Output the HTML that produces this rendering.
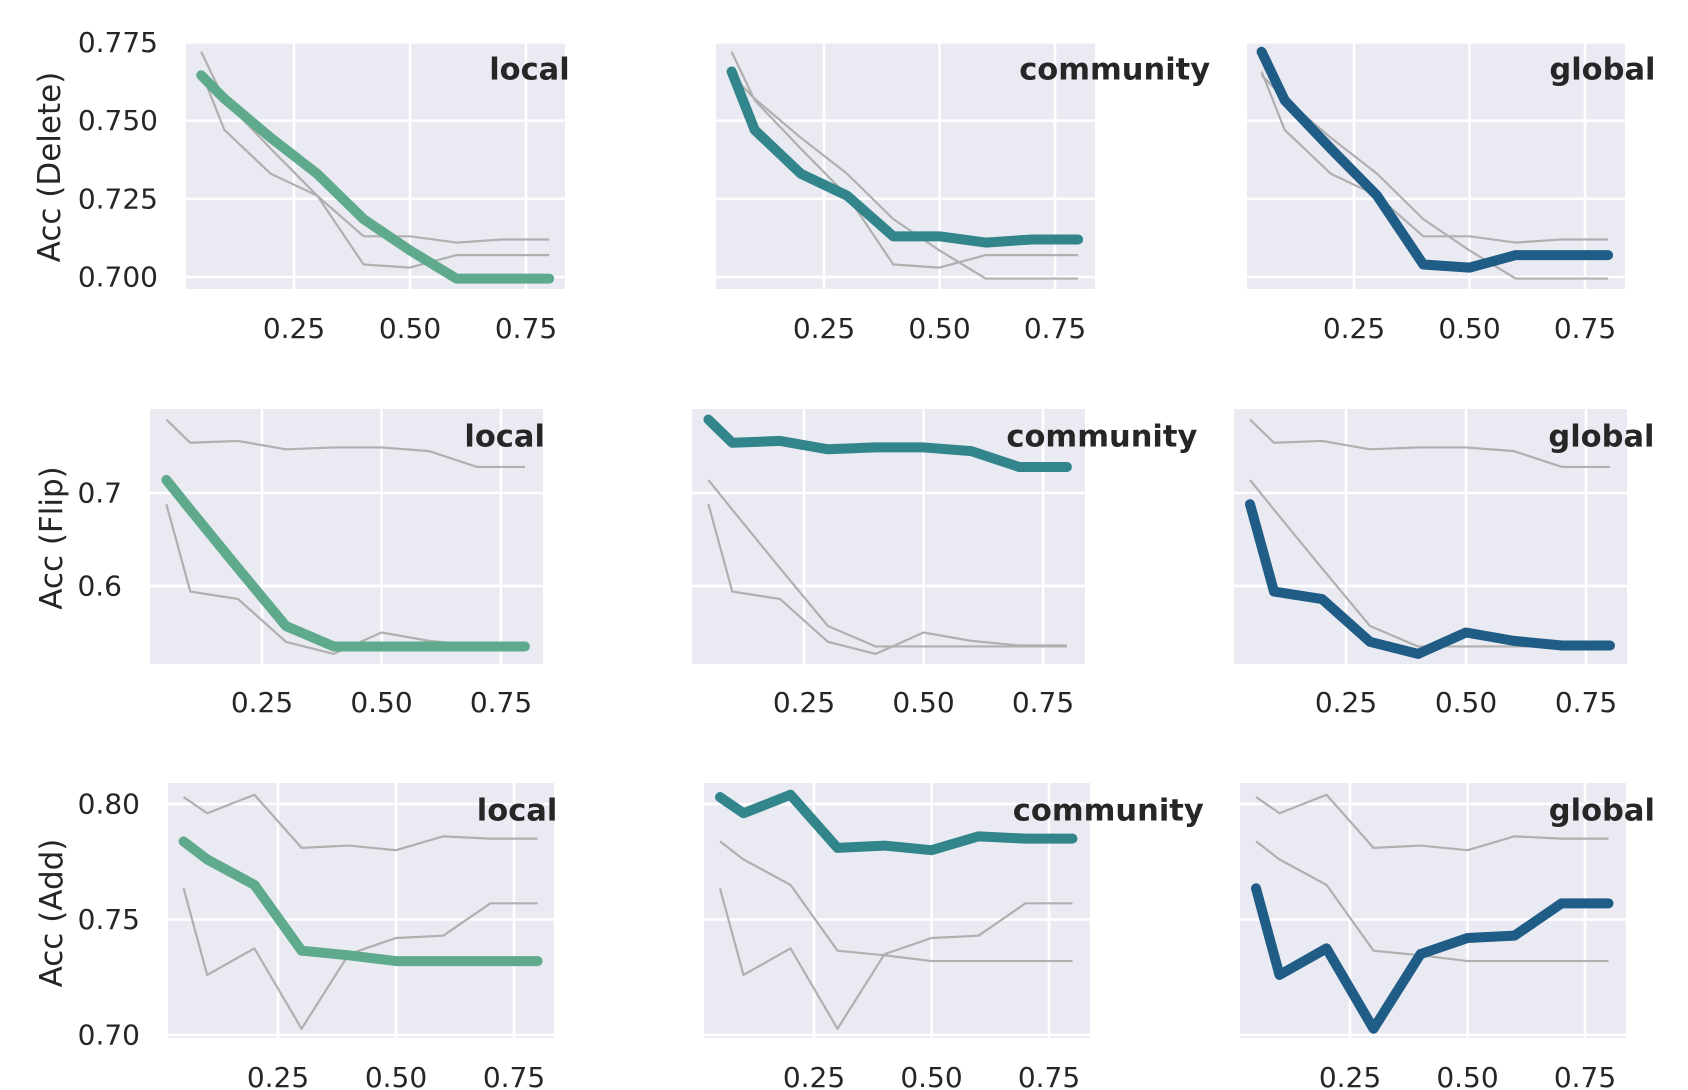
<!DOCTYPE html>
<html><head><meta charset="utf-8">
<style>
html,body{margin:0;padding:0;background:#fff;}
svg{display:block;}
</style></head>
<body>
<svg id="chart" width="1688" height="1090" viewBox="0 0 1688 1090" xmlns="http://www.w3.org/2000/svg"></svg>
<script>
const xs = [0.05,0.1,0.2,0.3,0.4,0.5,0.6,0.7,0.8];
const xTicks = [0.25,0.5,0.75];
const xTickLabels = ["0.25","0.50","0.75"];
const methods = ["local","community","global"];
const rowLabels = ["Acc (Delete)","Acc (Flip)","Acc (Add)"];
const deleteLocal = [0.7645,0.757,0.7445,0.733,0.7185,0.7085,0.6995,0.6995,0.6995];
const deleteCommunity = [0.7657,0.747,0.733,0.726,0.713,0.713,0.711,0.712,0.712];
const deleteGlobal = [0.772,0.7565,0.741,0.726,0.704,0.703,0.707,0.707,0.707];
const flipLocal = [0.714,0.682,0.619,0.557,0.535,0.535,0.535,0.535,0.535];
const flipCommunity = [0.779,0.754,0.756,0.747,0.749,0.749,0.745,0.728,0.728];
const flipGlobal = [0.688,0.594,0.586,0.540,0.527,0.550,0.541,0.536,0.536];
const addLocal = [0.7838,0.776,0.765,0.7365,0.7345,0.732,0.732,0.732,0.732];
const addCommunity = [0.803,0.796,0.804,0.781,0.782,0.780,0.786,0.785,0.785];
const addGlobal = [0.7635,0.726,0.7375,0.7027,0.735,0.742,0.743,0.757,0.757];
const deleteYTicks = [0.700,0.725,0.750,0.775];
const deleteYTickLabels = ["0.700","0.725","0.750","0.775"];
const flipYTicks = [0.6,0.7];
const flipYTickLabels = ["0.6","0.7"];
const addYTicks = [0.70,0.75,0.80];
const addYTickLabels = ["0.70","0.75","0.80"];

const rowSeries = [[deleteLocal,deleteCommunity,deleteGlobal],[flipLocal,flipCommunity,flipGlobal],[addLocal,addCommunity,addGlobal]];
const rowYTicks = [deleteYTicks,flipYTicks,addYTicks];
const rowYTickLabels = [deleteYTickLabels,flipYTickLabels,addYTickLabels];
const colors = ["#5fa98d","#31858b","#1f5c86"];
// layout (pixels)
const rowGeo = [
  {top:42,bottom:289,y0:0.7,py0:277,k:3128,lblY:167,lblX:50,tickY:338},
  {top:409,bottom:664,y0:0.7,py0:493,k:930,lblY:538,lblX:52,tickY:712},
  {top:783,bottom:1038,y0:0.7,py0:1035,k:2310,lblY:913,lblX:52,tickY:1087}
];
const panelGeo = [
  [{l:186,r:565,t25:294,t75:526},{l:716,r:1095,t25:824,t75:1055},{l:1247,r:1625,t25:1354,t75:1585}],
  [{l:150,r:543,t25:262,t75:501},{l:692,r:1085,t25:804,t75:1043},{l:1234,r:1627,t25:1346,t75:1586}],
  [{l:168,r:554,t25:278,t75:514},{l:704,r:1090,t25:814,t75:1049},{l:1240,r:1626,t25:1350,t75:1585}]
];
const NS="http://www.w3.org/2000/svg";
const svg=document.getElementById('chart');
function mk(tag,attrs,parent){const e=document.createElementNS(NS,tag);for(const k in attrs)e.setAttribute(k,attrs[k]);(parent||svg).appendChild(e);return e;}
const font='"DejaVu Sans","Liberation Sans",sans-serif';

for(let r=0;r<3;r++){
  const g=rowGeo[r];
  const yS=v=>g.py0-(v-g.y0)*g.k;
  const yl=mk('text',{x:g.lblX,y:g.lblY,'font-family':font,'font-size':31,fill:'#262626','text-anchor':'middle','dominant-baseline':'central',transform:`rotate(-90 ${g.lblX} ${g.lblY})`});
  
  
  yl.textContent=rowLabels[r];
  for(let c=0;c<3;c++){
    const p=panelGeo[r][c];
    const xS=v=>p.t25+(v-0.25)*(p.t75-p.t25)/0.5;
    const grp=mk('g',{});
    
    
    const bg=mk('rect',{x:p.l,y:g.top,width:p.r-p.l,height:g.bottom-g.top,fill:'#eaeaf2'},grp);
    
    
    rowYTicks[r].forEach((v,i)=>{
      const y=yS(v);
      const gl=mk('line',{x1:p.l,x2:p.r,y1:y,y2:y,stroke:'#fff','stroke-width':2.5},grp);
      
      
      if(c===0){
        const t=mk('text',{x:p.l-28,y:y,'font-family':font,'font-size':28,fill:'#262626','text-anchor':'end','dominant-baseline':'central'},grp);
        
        
        t.textContent=rowYTickLabels[r][i];
      }
    });
    xTicks.forEach((v,i)=>{
      const x=xS(v);
      const gl=mk('line',{x1:x,x2:x,y1:g.top,y2:g.bottom,stroke:'#fff','stroke-width':2.5},grp);
      
      
      const t=mk('text',{x:x,y:g.tickY,'font-family':font,'font-size':28,fill:'#262626','text-anchor':'middle'},grp);
      
      
      t.textContent=xTickLabels[i];
    });
    for(let s=0;s<3;s++){
      if(s===c) continue;
      const pts=rowSeries[r][s].map((v,i)=>xS(xs[i])+','+yS(v)).join(' ');
      const pl=mk('polyline',{points:pts,fill:'none',stroke:'#b0b0b0','stroke-width':2.2,'stroke-linejoin':'round'},grp);
      
      
    }
    const pts=rowSeries[r][c].map((v,i)=>xS(xs[i])+','+yS(v)).join(' ');
    const hl=mk('polyline',{points:pts,fill:'none',stroke:colors[c],'stroke-width':10,'stroke-linejoin':'round','stroke-linecap':'round'},grp);
    
    
    const tt=mk('text',{x:p.l+0.8*(p.r-p.l),y:g.top+28,'font-family':font,'font-size':30.5,'font-weight':'bold',fill:'#262626','dominant-baseline':'central'},grp);
    
    
    tt.textContent=methods[c];
  }
}
</script>
</body></html>
